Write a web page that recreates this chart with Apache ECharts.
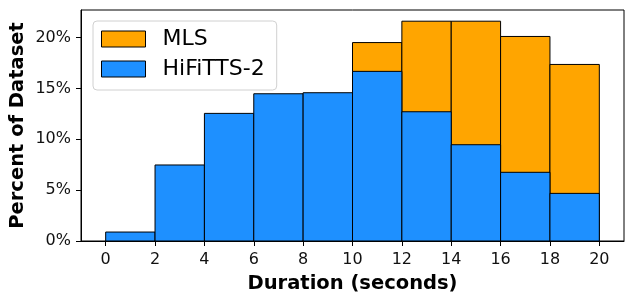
<!DOCTYPE html>
<html>
<head>
<meta charset="utf-8">
<script src="https://cdn.jsdelivr.net/npm/echarts@6/dist/echarts.min.js"></script>
<style>html,body{margin:0;padding:0;background:#fff}#c{width:633px;height:303px}</style>
</head>
<body>
<div id="c"></div>
<script>
const binStarts = [0, 2, 4, 6, 8, 10, 12, 14, 16, 18];
const binWidth = 2;
const mlsPct = [0, 0, 0, 0, 0, 19.5, 21.6, 21.6, 20.1, 17.35];
const hifiPct = [0.88, 7.47, 12.54, 14.47, 14.57, 16.67, 12.7, 9.46, 6.75, 4.68];
const xTickValues = [0, 2, 4, 6, 8, 10, 12, 14, 16, 18, 20];
const seriesNames = ['MLS', 'HiFiTTS-2'];
const colors = ['#FFA500', '#1E90FF'];

const FONT = 'DejaVu Sans';
function toData(vals) {
  return binStarts.map((s, i) => [s, s + binWidth, vals[i]]);
}
function renderBin(params, api) {
  const x0 = api.value(0), x1 = api.value(1), v = api.value(2);
  const p0 = api.coord([x0, v]);
  const p1 = api.coord([x1, 0]);
  return {
    type: 'rect',
    shape: { x: p0[0], y: p0[1], width: p1[0] - p0[0], height: p1[1] - p0[1] },
    style: { fill: colors[params.seriesIndex], stroke: '#000', lineWidth: 1 }
  };
}
const chart = echarts.init(document.getElementById('c'), null, { renderer: 'canvas' });
chart.setOption({
  animation: false,
  textStyle: { fontFamily: FONT },
  grid: { left: 81, right: 9, top: 10, bottom: 62, outerBoundsMode: 'none', containLabel: false,
    show: true, borderColor: '#000', borderWidth: 1, backgroundColor: 'transparent' },
  legend: {
    orient: 'vertical', left: 93, top: 21,
    padding: [7, 12, 10, 8],
    itemWidth: 44, itemHeight: 16, itemGap: 8,
    backgroundColor: '#fff', borderColor: '#d0d0d0', borderWidth: 1, borderRadius: 4,
    textStyle: { fontFamily: FONT, fontSize: 22, lineHeight: 22, color: '#000', padding: [0, 0, 0, 12] },
    data: seriesNames.map((n, i) => ({ name: n, icon: 'rect', itemStyle: { color: colors[i], borderColor: '#000', borderWidth: 1 } }))
  },
  xAxis: {
    type: 'value', min: -1, max: 21,
    name: 'Duration (seconds)', nameLocation: 'middle', nameGap: 33, nameMoveOverlap: false,
    nameTextStyle: { fontFamily: FONT, fontSize: 19.5, fontWeight: 'bold', color: '#000' },
    axisLine: { show: true, onZero: false, lineStyle: { color: '#000', width: 1 } },
    axisTick: { show: true, length: 5, inside: false, customValues: xTickValues, lineStyle: { color: '#000' } },
    axisLabel: { customValues: xTickValues, fontFamily: FONT, fontSize: 16, color: '#111', margin: 11 },
    splitLine: { show: false }
  },
  yAxis: {
    type: 'value', min: 0, max: 22.7, interval: 5,
    name: 'Percent of Dataset', nameLocation: 'middle', nameGap: 53, nameMoveOverlap: false,
    nameTextStyle: { fontFamily: FONT, fontSize: 19.5, fontWeight: 'bold', color: '#000' },
    axisLine: { show: true, onZero: false, lineStyle: { color: '#000', width: 1 } },
    axisTick: { show: true, length: 5, lineStyle: { color: '#000' } },
    axisLabel: { formatter: '{value}%', fontFamily: FONT, fontSize: 16, color: '#111', margin: 10,
      showMaxLabel: false },
    splitLine: { show: false }
  },
  series: seriesNames.map((n, i) => ({
    type: 'custom', name: n,
    itemStyle: { color: colors[i], borderColor: '#000', borderWidth: 1 },
    renderItem: renderBin,
    encode: { x: [0, 1], y: 2 },
    data: toData(i === 0 ? mlsPct : hifiPct)
  }))
});
</script>
</body>
</html>
